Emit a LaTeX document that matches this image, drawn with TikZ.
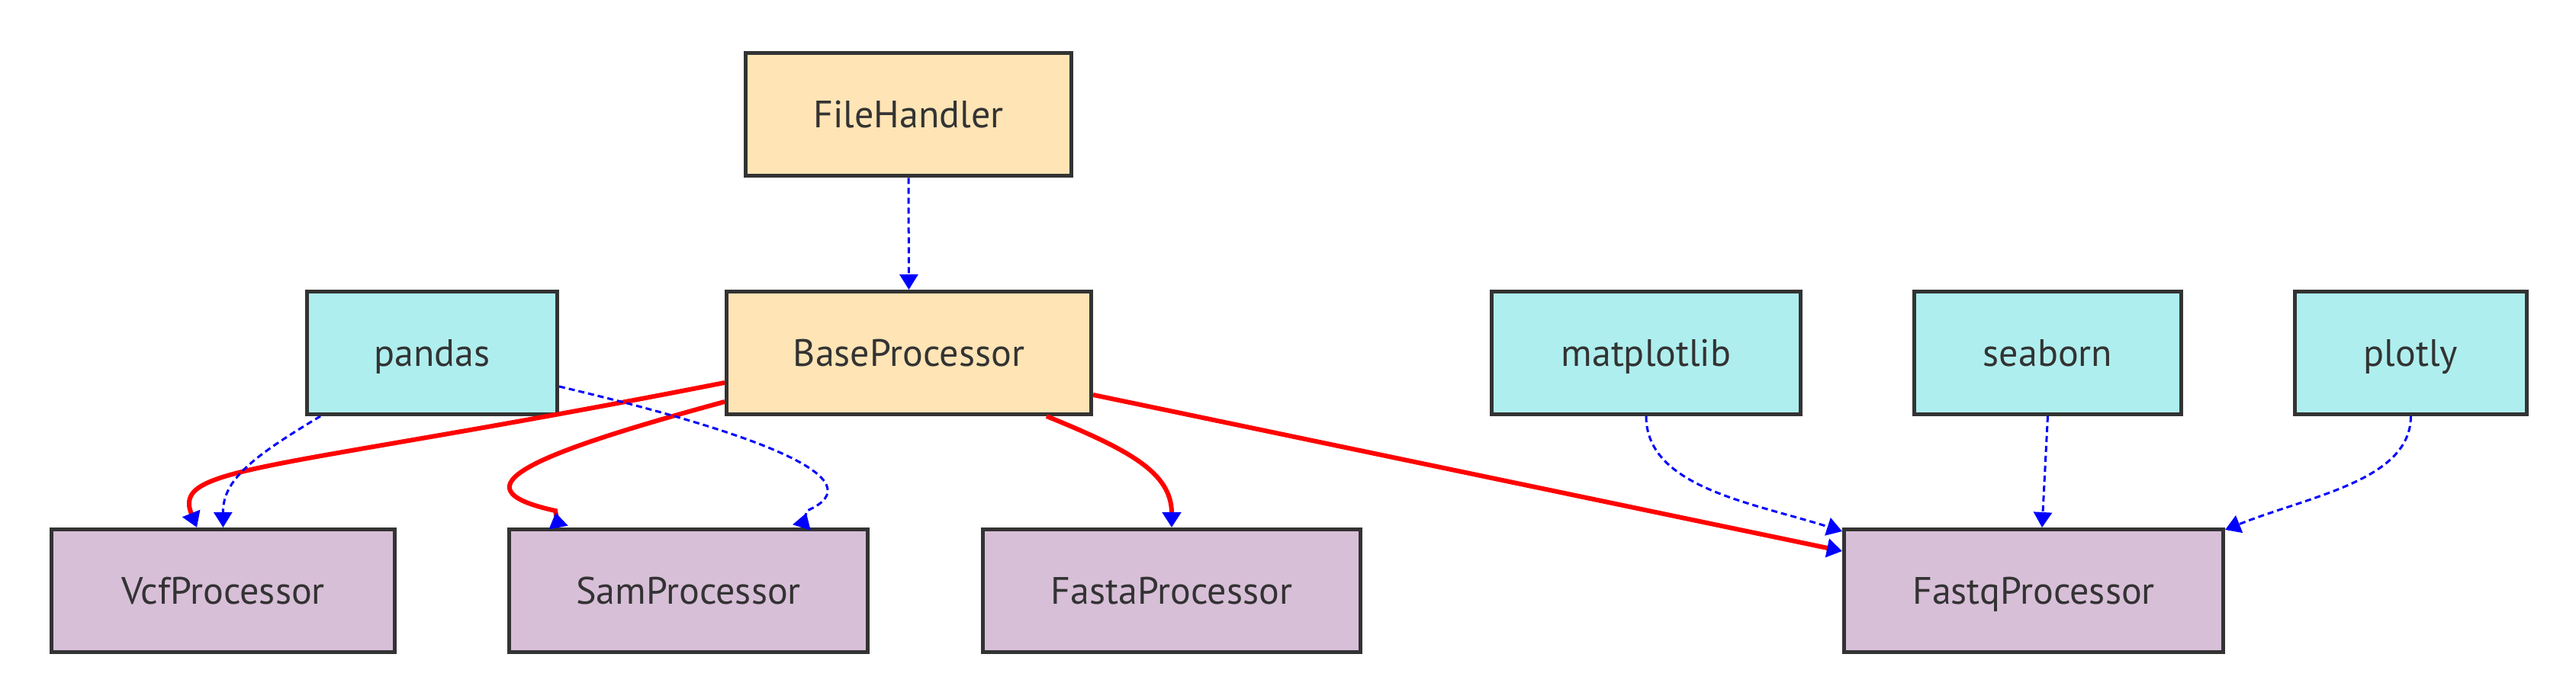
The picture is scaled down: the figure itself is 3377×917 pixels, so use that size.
\documentclass[tikz,border=0pt]{standalone}
\usepackage{fontspec}
\setmainfont{PT Sans}
\usetikzlibrary{arrows.meta}
\definecolor{txt}{HTML}{333333}
\definecolor{cyanf}{HTML}{AFEEEE}
\definecolor{orgf}{HTML}{FFE4B5}
\definecolor{purf}{HTML}{D8BFD8}
\begin{document}
\begin{tikzpicture}[x=0.25pt,y=-0.25pt,
  box/.style={draw=txt, line width=1.25pt, minimum height=40.25pt, inner sep=0pt,
    font=\fontsize{12.5}{15}\selectfont, text=txt, text height=8.75pt, text depth=0pt},
  lib/.style={box, fill=cyanf},
  core/.style={box, fill=orgf},
  proc/.style={box, fill=purf},
  redge/.style={draw=red, line width=1.5pt, -{Triangle[length=5pt,width=6pt,color=blue]}},
  redgeup/.style={draw=red, line width=1.5pt, -{Triangle[length=5pt,width=6pt,color=blue,reversed]}},
  bedge/.style={draw=blue, line width=0.75pt, dash pattern=on 2pt off 1.25pt, -{Triangle[length=5pt,width=6pt,color=blue]}},
  bedgeup/.style={draw=blue, line width=0.75pt, dash pattern=on 2pt off 1.25pt, -{Triangle[length=5pt,width=6pt,color=blue,reversed]}}]
\fill[white] (0,0) rectangle (3377,917);
\useasboundingbox (0,0) rectangle (3377,917);
% nodes
\node[core, minimum width=106.75pt] (fh) at (1191,150.5) {FileHandler};
\node[core, minimum width=119.5pt] (bp) at (1191.5,463) {BaseProcessor};
\node[lib, minimum width=82pt] (pd) at (566.5,463) {pandas};
\node[lib, minimum width=101.25pt] (mp) at (2158,463) {matplotlib};
\node[lib, minimum width=87.5pt] (sb) at (2684.5,463) {seaborn};
\node[lib, minimum width=76pt] (pl) at (3160.5,463) {plotly};
\node[proc, minimum width=112.5pt] (vcf) at (292.5,775) {VcfProcessor};
\node[proc, minimum width=117.5pt] (sam) at (902.5,775) {SamProcessor};
\node[proc, minimum width=123.75pt] (fa) at (1536,775) {FastaProcessor};
\node[proc, minimum width=124.25pt] (fq) at (2666,775) {FastqProcessor};
% connectors
\draw[bedge] (fh.south) -- (bp.north);
\draw[redge] ([yshift=-9.75pt]bp.west) .. controls (350,620) and (225,610) .. ([xshift=-8.6pt]vcf.north);
\draw[bedge] ([xshift=-36.6pt]pd.south) .. controls (330,600) and (292,630) .. (vcf.north);
\draw[redgeup] ([yshift=-16pt]bp.west) .. controls (700,595) and (590,640) .. (728,670) -- ([xshift=-42.6pt]sam.north);
\draw[bedgeup] ([yshift=-11pt]pd.east) .. controls (1000,570) and (1150,630) .. (1058,670) -- ([xshift=37.1pt]sam.north);
\draw[redge] ([xshift=45.1pt]bp.south) .. controls (1480,590) and (1536,620) .. (fa.north);
\draw[redge] ([yshift=-13.75pt]bp.east) -- ([yshift=13pt]fq.west);
\draw[bedge] (mp.south) .. controls (2158,640) and (2300,660) .. ([yshift=-1.25pt]fq.north west);
\draw[bedge] (sb.south) -- ([xshift=2.75pt]fq.north);
\draw[bedge] (pl.south) .. controls (3160,630) and (3030,650) .. ([yshift=-0.75pt]fq.north east);
\end{tikzpicture}
\end{document}
